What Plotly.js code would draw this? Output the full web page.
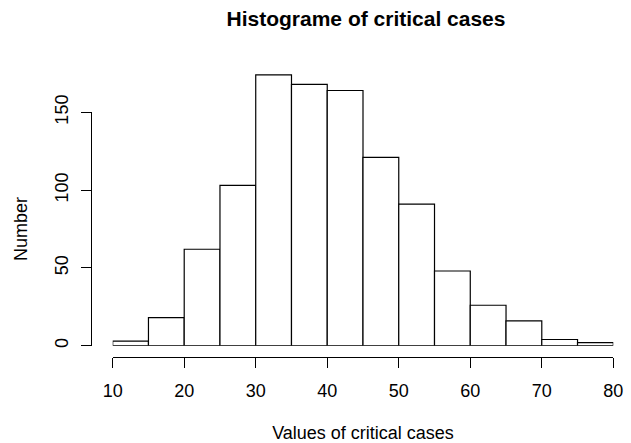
<!DOCTYPE html>
<html>
<head>
<meta charset="utf-8">
<script src="https://cdn.plot.ly/plotly-3.0.1.min.js"></script>
<style>html,body{margin:0;padding:0;background:#fff;}#chart{width:631px;height:443px;}</style>
</head>
<body>
<div id="chart"></div>
<script>
// Data
const binStarts = [10, 15, 20, 25, 30, 35, 40, 45, 50, 55, 60, 65, 70, 75];
const binWidth = 5;
const counts = [3, 18, 62, 103, 174, 168, 164, 121, 91, 48, 26, 16, 4, 2];
const xTicks = [10, 20, 30, 40, 50, 60, 70, 80];
const xTickLabels = ["10", "20", "30", "40", "50", "60", "70", "80"];
const yTicks = [0, 50, 100, 150];
const yTickLabels = ["0", "50", "100", "150"];

const W = 631, H = 443;
const px = v => v / W;
const py = v => 1 - v / H;

const font = {family: "Liberation Sans, Arial, sans-serif", size: 18, color: "#000"};

const traces = [
  {
    type: "bar",
    x: binStarts,
    y: counts,
    width: binWidth,
    offset: 0,
    marker: {color: "#ffffff", line: {color: "#000000", width: 1.2}},
    xaxis: "x",
    yaxis: "y",
    hoverinfo: "skip"
  },
  {
    type: "scatter",
    x: [],
    y: [],
    xaxis: "x",
    yaxis: "y2",
    showlegend: false
  }
];

// Pixel geometry: y 0 at 345.7, 150 at 112.3; x 10 at 112.7, 80 at 613.3
const y0px = 345.7, y150px = 112.3;
const unitPx = (y0px - y150px) / 150;
const yMaxData = 180;

const layout = {
  width: W,
  height: H,
  margin: {l: 0, r: 0, t: 0, b: 0},
  paper_bgcolor: "#fff",
  plot_bgcolor: "rgba(0,0,0,0)",
  showlegend: false,
  font: font,
  title: {
    text: "<b>Histograme of critical cases</b>",
    font: {family: "Liberation Sans, Arial, sans-serif", size: 21, color: "#000"},
    x: px(366), xanchor: "center",
    y: py(19), yanchor: "middle"
  },
  xaxis: {
    domain: [px(112.7), px(613.3)],
    range: [10, 80],
    anchor: "free",
    position: py(356.7),
    showline: true, linecolor: "#000", linewidth: 1,
    ticks: "outside", ticklen: 10, tickwidth: 1, tickcolor: "#000",
    tickvals: xTicks, ticktext: xTickLabels,
    ticklabelstandoff: 8,
    showgrid: false, zeroline: false,
    tickfont: font,
    title: {text: "Values of critical cases", font: font, standoff: 26},
    fixedrange: true
  },
  yaxis: {
    domain: [py(y0px), py(y0px - yMaxData * unitPx)],
    range: [0, yMaxData],
    visible: false,
    showgrid: false, zeroline: false,
    fixedrange: true
  },
  yaxis2: {
    domain: [py(y0px), py(y150px)],
    range: [0, 150],
    anchor: "free",
    position: px(90.7),
    showline: true, linecolor: "#000", linewidth: 1,
    ticks: "outside", ticklen: 10, tickwidth: 1, tickcolor: "#000",
    tickvals: yTicks, ticktext: yTickLabels,
    tickangle: -90,
    ticklabelstandoff: 6,
    showgrid: false, zeroline: false,
    tickfont: font,
    title: {text: "Number", font: font, standoff: 18},
    fixedrange: true
  }
};

Plotly.newPlot("chart", traces, layout, {staticPlot: true, displayModeBar: false});
</script>
</body>
</html>
